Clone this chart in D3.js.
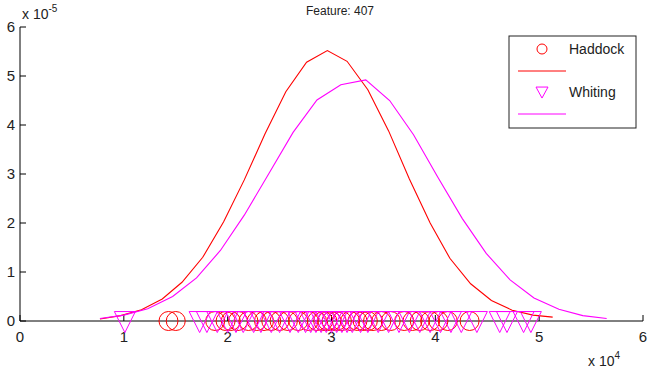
<!DOCTYPE html>
<html>
<head>
<meta charset="utf-8">
<script src="https://cdn.jsdelivr.net/npm/d3@7"></script>
<style>
body{margin:0;background:#fff;}
text{font-family:"Liberation Sans",Arial,sans-serif;fill:#222;}
</style>
</head>
<body>
<script>
const WIDTH = 648
const HEIGHT = 374
const RED = "#ff0000"
const MAGENTA = "#ff00ff"

// x values in units of 1e4, y values in units of 1e-5
var xTicks = [0,1,2,3,4,5,6];
var yTicks = [0,1,2,3,4,5,6];
var seriesNames = ["Haddock","Whiting"];

var haddockCurveX = [0.77,0.97,1.17,1.37,1.56,1.76,1.96,2.16,2.36,2.56,2.76,2.96,3.15,3.35,3.55,3.75,3.95,4.14,4.34,4.54,4.74,4.94,5.13];
var haddockCurveY = [0.04,0.11,0.23,0.45,0.79,1.30,2.02,2.88,3.82,4.68,5.28,5.52,5.30,4.72,3.88,2.90,2.00,1.28,0.76,0.42,0.22,0.12,0.08];

var whitingCurveX = [0.77,1.00,1.23,1.47,1.70,1.93,2.16,2.40,2.63,2.86,3.09,3.33,3.56,3.79,4.02,4.26,4.49,4.72,4.95,5.19,5.42,5.65];
var whitingCurveY = [0.05,0.12,0.25,0.50,0.88,1.44,2.16,3.02,3.85,4.51,4.82,4.92,4.50,3.80,2.95,2.09,1.38,0.84,0.47,0.24,0.11,0.05];

var haddockPoints = [1.43,1.50,1.88,1.98,2.03,2.10,2.20,2.28,2.35,2.42,2.50,2.58,2.68,2.78,2.86,2.92,2.96,3.00,3.05,3.10,3.18,3.25,3.30,3.35,3.40,3.48,3.57,3.70,3.78,3.85,3.95,4.03,4.12,4.33];
var whitingPoints = [1.01,1.73,1.80,1.90,2.00,2.08,2.15,2.25,2.32,2.42,2.50,2.60,2.68,2.75,2.80,2.85,2.90,2.95,3.00,3.05,3.10,3.15,3.20,3.28,3.35,3.45,3.55,3.65,3.75,3.85,3.95,4.05,4.15,4.25,4.40,4.62,4.69,4.85,4.92];

var x = d3.scaleLinear().domain([0,6]).range([20,643]);
var y = d3.scaleLinear().domain([0,6]).range([321,27]);

var svg = d3.select("body").append("svg")
    .attr("width",WIDTH)
    .attr("height",HEIGHT);

var circlePath = function(r){
    return d3.symbol(d3.symbolCircle, Math.PI*r*r)();
}
var trianglePath = function(w,h){
    return "M"+(-w/2)+","+(-h*0.45)+"L"+(w/2)+","+(-h*0.45)+"L0,"+(h*0.55)+"Z";
}

var drawAxes = function(){
    var g = svg.append("g");
    g.append("line").attr("x1",x(0)).attr("x2",x(6)).attr("y1",y(0)).attr("y2",y(0))
        .attr("stroke","#000");
    g.append("line").attr("x1",x(0)).attr("x2",x(0)).attr("y1",y(0)).attr("y2",y(6))
        .attr("stroke","#000");
    g.selectAll(".xt").data(xTicks).enter().append("line")
        .attr("x1",d=>x(d)).attr("x2",d=>x(d))
        .attr("y1",y(0)).attr("y2",y(0)-6)
        .attr("stroke","#000");
    g.selectAll(".yt").data(yTicks).enter().append("line")
        .attr("x1",x(0)).attr("x2",x(0)+6)
        .attr("y1",d=>y(d)).attr("y2",d=>y(d))
        .attr("stroke","#000");
    g.selectAll(".xl").data(xTicks).enter().append("text")
        .attr("x",d=>x(d)).attr("y",y(0)+21)
        .attr("text-anchor","middle")
        .style("font-size","15px")
        .text(d=>d);
    g.selectAll(".yl").data(yTicks).enter().append("text")
        .attr("x",x(0)-5).attr("y",d=>y(d)+5)
        .attr("text-anchor","end")
        .style("font-size","15px")
        .text(d=>d);

    var ex = svg.append("text").attr("x",22).attr("y",19).style("font-size","14px");
    ex.append("tspan").text("x 10");
    ex.append("tspan").attr("dy",-7).style("font-size","10px").text("-5");

    var ex2 = svg.append("text").attr("x",588).attr("y",366).style("font-size","14px");
    ex2.append("tspan").text("x 10");
    ex2.append("tspan").attr("dy",-7).style("font-size","10px").text("4");

    svg.append("text").attr("x",340).attr("y",15)
        .attr("text-anchor","middle")
        .style("font-size","12px")
        .text("Feature: 407");
}

var drawSeries = function(xs, ys, pts, color, isCircle){
    var line = d3.line().x(d=>x(d[0])).y(d=>y(d[1]));
    svg.append("path")
        .datum(xs.map((v,i)=>[v,ys[i]]))
        .attr("d",line)
        .attr("fill","none")
        .attr("stroke",color)
        .attr("stroke-width",1.1);
    svg.append("g").selectAll("path").data(pts).enter().append("path")
        .attr("d",isCircle ? circlePath(9.5) : trianglePath(21,21))
        .attr("transform",d=>"translate("+x(d)+","+y(0)+")")
        .attr("fill","none")
        .attr("stroke",color)
        .attr("stroke-width",1);
}

var drawLegend = function(){
    var g = svg.append("g");
    g.append("rect").attr("x",509).attr("y",36).attr("width",127).attr("height",92)
        .attr("fill","#fff").attr("stroke","#222");
    var colors = [RED,MAGENTA];
    seriesNames.forEach(function(name,i){
        var top = 49 + i*43;
        g.append("path")
            .attr("d",i==0 ? circlePath(5) : trianglePath(12,11))
            .attr("transform","translate(542,"+top+")")
            .attr("fill","none").attr("stroke",colors[i]);
        g.append("text").attr("x",569).attr("y",top+5)
            .style("font-size","14px").text(name);
        g.append("line").attr("x1",518).attr("x2",566)
            .attr("y1",top+22).attr("y2",top+22)
            .attr("stroke",colors[i]);
    });
}

drawAxes();
drawSeries(haddockCurveX, haddockCurveY, haddockPoints, RED, true);
drawSeries(whitingCurveX, whitingCurveY, whitingPoints, MAGENTA, false);
drawLegend();
</script>
</body>
</html>
